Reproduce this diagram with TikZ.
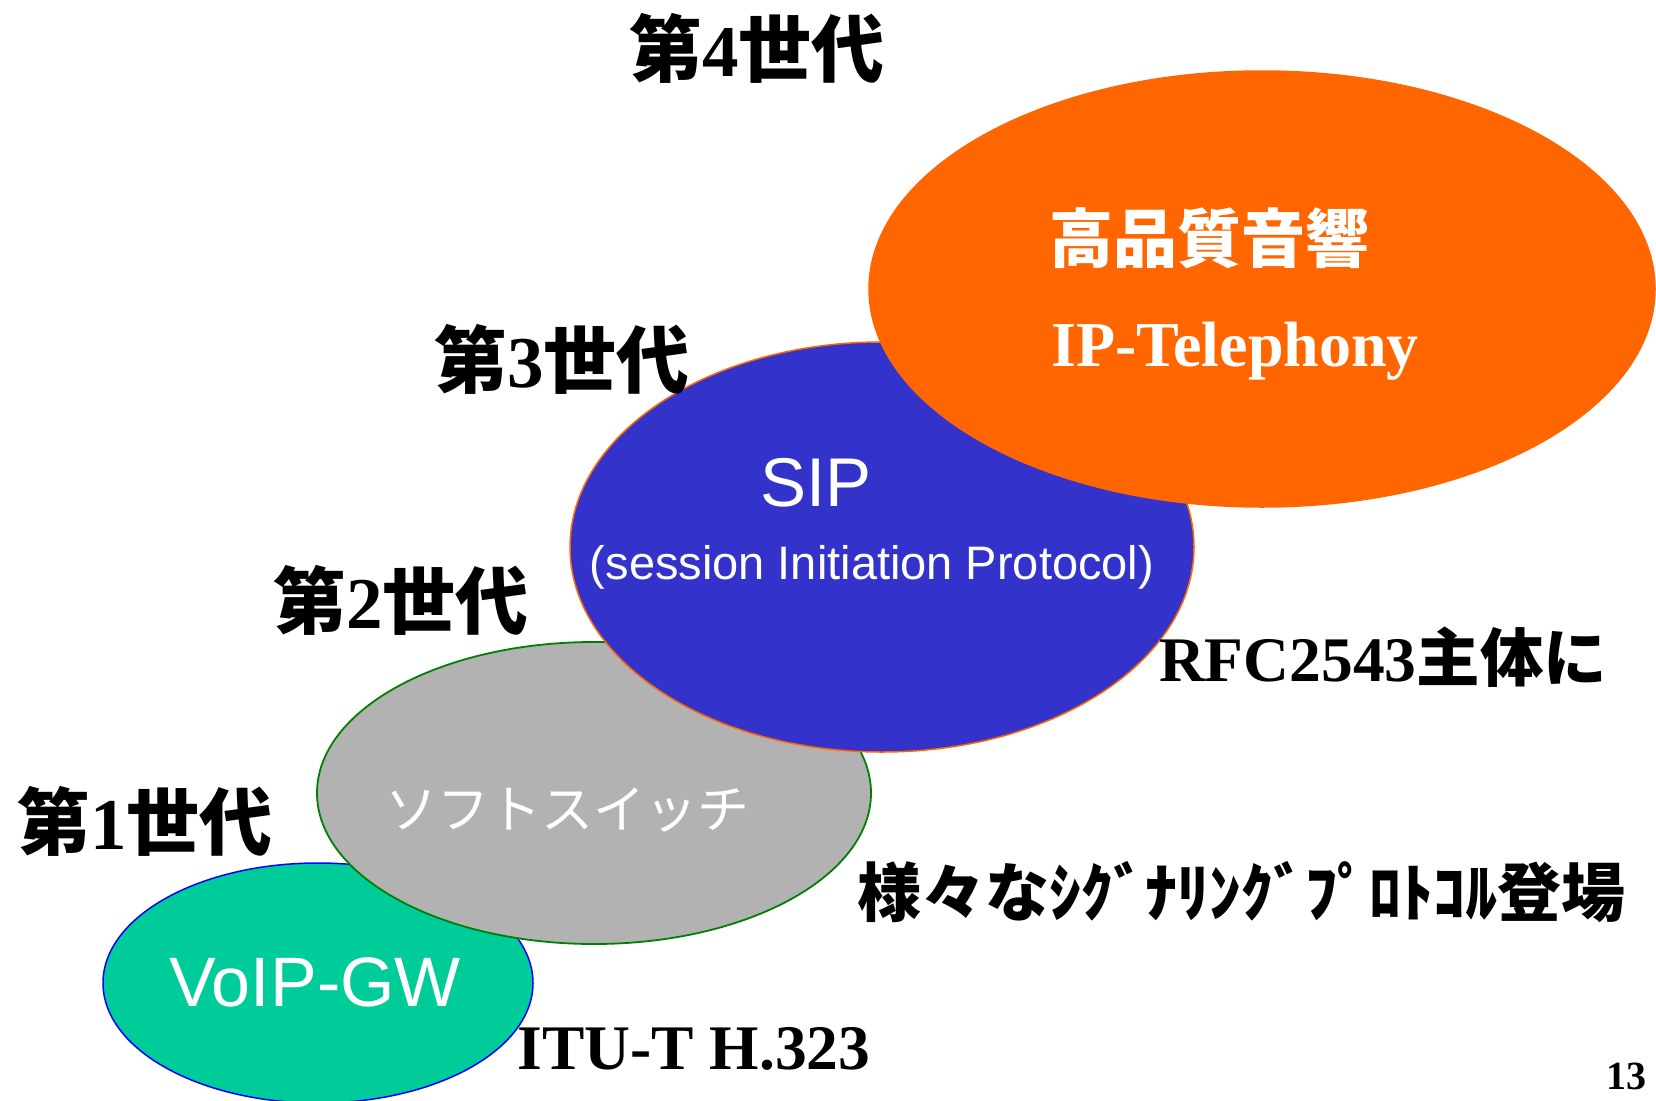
\documentclass[tikz,border=0pt]{standalone}
\usepackage{fontspec}
\usetikzlibrary{shapes.geometric}
\setmainfont{Liberation Serif}
\setsansfont{Liberation Sans}
\newfontfamily\jp{Noto Sans CJK JP}
\newcommand\fsz[1]{\fontsize{#1}{#1}\selectfont}
\definecolor{voipgreen}{HTML}{00CC99}
\definecolor{swgray}{HTML}{B2B2B2}
\definecolor{swborder}{HTML}{008000}
\definecolor{sipblue}{HTML}{3333CC}
\definecolor{hqorange}{HTML}{FF6600}
\tikzset{
  ell/.style={ellipse, inner sep=0pt, line width=1.5pt},
  lbl/.style={inner sep=0pt, anchor=center, text=black},
  wlbl/.style={inner sep=0pt, anchor=center, text=white},
}
\begin{document}
\begin{tikzpicture}[x=1pt,y=-1pt]
\useasboundingbox (0,0) rectangle (1656,1100);
\fill[white] (0,0) rectangle (1656,1100);
\begin{scope}
\clip (0,0) rectangle (1656,1100);
\node[ell, fill=voipgreen, draw=blue, minimum width=430pt, minimum height=240pt] (gw) at (318,983) {};
\node[ell, fill=swgray, draw=swborder, line width=1.8pt, minimum width=554pt, minimum height=302pt] (sw) at (594,793) {};
\node[ell, fill=sipblue, draw=hqorange, minimum width=624pt, minimum height=410pt] (sip) at (882,547) {};
\node[ell, fill=hqorange, draw=hqorange, minimum width=786pt, minimum height=436pt] (hq) at (1262,289) {};
\end{scope}

% texts inside ellipses
\node[wlbl, font=\jp\bfseries\fsz{64}] (hqt) at (1209,238) {高品質音響};
\node[wlbl, font=\rmfamily\bfseries\fsz{64}] (ipt) at (1235,351) {IP-Telephony};
\node[wlbl, font=\sffamily\fsz{69}] (sipt) at (816,483) {SIP};
\node[wlbl, font=\sffamily\fsz{47}] (sipl) at (872,567) {(session Initiation Protocol)};
\node[wlbl, font=\jp\fsz{52}] (swt) at (567,810) {ソフトスイッチ};
\node[wlbl, font=\sffamily\fsz{70}] (gwt) at (315,982) {VoIP-GW};

% generation labels
\node[lbl, font=\jp\bfseries\fsz{73}] (g4) at (757,48) {第{\rmfamily\bfseries 4}世代};
\node[lbl, font=\jp\bfseries\fsz{73}] (g3) at (562,359) {第{\rmfamily\bfseries 3}世代};
\node[lbl, font=\jp\bfseries\fsz{73}] (g2) at (401,600) {第{\rmfamily\bfseries 2}世代};
\node[lbl, font=\jp\bfseries\fsz{73}] (g1) at (145,821) {第{\rmfamily\bfseries 1}世代};

% side notes
\node[lbl, font=\jp\bfseries\fsz{63.5}] (rfc) at (1383,657) {{\rmfamily\bfseries RFC2543}主体に};
\node[lbl, font=\jp\bfseries\fsz{64}] (sig) at (1241,892) {様々なｼｸﾞﾅﾘﾝｸﾞﾌﾟﾛﾄｺﾙ登場};
\node[lbl, font=\rmfamily\bfseries\fsz{63.5}] (itu) at (694,1049) {ITU-T H.323};
\node[lbl, font=\rmfamily\bfseries\fsz{40}] (pg) at (1626,1076) {13};
\end{tikzpicture}
\end{document}
